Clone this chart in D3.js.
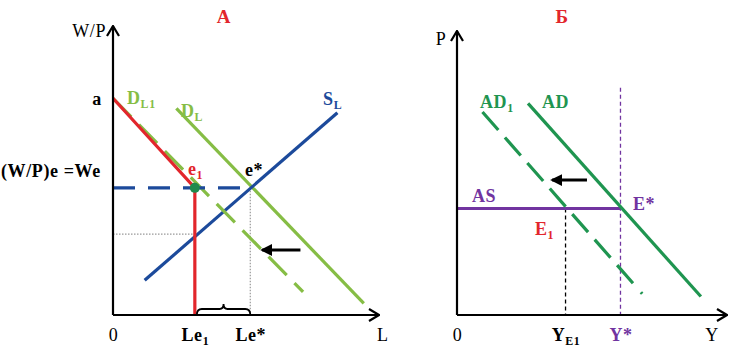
<!DOCTYPE html>
<html>
<head>
<meta charset="utf-8">
<script src="https://cdn.jsdelivr.net/npm/d3@7/dist/d3.min.js"></script>
<style>
  body { margin:0; background:#fff; }
  svg text { font-family:"Liberation Serif","Times New Roman",serif; letter-spacing:0.6px; }
</style>
</head>
<body>
<div id="chart"></div>
<script>
////////////////////////////////////////
// data (abstract units, 0..100 on each axis)
////////////////////////////////////////

// panel A : labour market
var a_DL1 = [[0,75],[72,8]];        // dashed, shifted demand
var a_DL  = [[24,71.5],[95,4]];     // demand
var a_SL  = [[12,12],[85,70]];      // supply
var a_red = [[0,75],[31,44],[31,0]];
var a_We  = 44;                     // real wage level
var a_Le1 = 31, a_LeStar = 52;
var a_lowW = 28;                    // dotted level under e1
var a_shift = [[71,22.5],[56.5,22.5]];
var a_xTicks = [0, a_Le1, a_LeStar, 102];
var a_xLabels = [[['0']], [['Le'],['1','sub']], [['Le*']], [['L']]];

// panel Б : goods market
var b_AD  = [[26.5,74.5],[91,6.5]];
var b_AD1 = [[9.5,71.5],[70.5,6]];
var b_AS  = 37.5;
var b_Y1 = 40.5, b_YStar = 61;
var b_YStarTop = 80;
var b_shift = [[48.5,47.5],[35.5,47.5]];
var b_xTicks = [0, b_Y1, b_YStar, 95];
var b_xLabels = [[['0']], [['Y'],['E1','sub']], [['Y*']], [['Y']]];

////////////////////////////////////////
// colours
////////////////////////////////////////
var red = '#e2262c', lgreen = '#86bd45', blue = '#1c4a9b',
    dgreen = '#1f9550', purple = '#7134a0';

var W = 731, H = 347;
var svg = d3.select('#chart').append('svg')
  .attr('width', W).attr('height', H);

var defs = svg.append('defs');
defs.append('marker').attr('id','axArrow')
  .attr('markerUnits','userSpaceOnUse')
  .attr('viewBox','0 0 12 14').attr('refX',11).attr('refY',7)
  .attr('markerWidth',12).attr('markerHeight',14).attr('orient','auto')
  .append('path').attr('d','M1,1 L11,7 L1,13')
  .attr('fill','none').attr('stroke','#000').attr('stroke-width',2.2);
defs.append('marker').attr('id','shArrow')
  .attr('markerUnits','userSpaceOnUse')
  .attr('viewBox','0 0 12 12').attr('refX',10).attr('refY',6)
  .attr('markerWidth',12).attr('markerHeight',12).attr('orient','auto')
  .append('path').attr('d','M0,0 L12,6 L0,12 Z').attr('fill','#000');

var line = function(x, y){ return d3.line().x(function(d){return x(d[0]);}).y(function(d){return y(d[1]);}); };

// text with optional subscript parts
function label(g, px, py, parts, color, opt){
  opt = opt || {};
  var t = g.append('text').attr('x',px).attr('y',py)
    .attr('fill',color||'#000')
    .attr('font-size',opt.size||18)
    .attr('font-weight',opt.weight||'bold')
    .attr('text-anchor',opt.anchor||'start');
  addParts(t, parts);
  return t;
}
function addParts(t, parts){
  parts.forEach(function(p, i){
    var s = t.append('tspan').text(p[0]);
    if(p[1]==='sub') s.attr('font-size','0.66em').attr('dy',3.5);
    else if(i>0 && parts[i-1][1]==='sub') s.attr('dy',-3.5);
  });
}

function axes(g, x, y, ticks, labels){
  var xa = d3.axisBottom(x).tickValues(ticks).tickSize(0).tickSizeOuter(0).tickFormat('');
  var gx = g.append('g').attr('transform','translate(0,'+y(0)+')').call(xa);
  gx.select('.domain').attr('stroke-width',2.2)
    .attr('d','M'+x(0)+',0H'+(x(100)+2)).attr('marker-end','url(#axArrow)');
  gx.selectAll('.tick text').remove();
  gx.selectAll('.tick').each(function(d,i){
    var t = d3.select(this).append('text').attr('y',26).attr('fill','#000')
      .attr('font-size',18).attr('text-anchor','middle')
      .attr('font-weight', (i===0||i===ticks.length-1)?'normal':'bold');
    addParts(t, labels[i]);
  });
  var ya = d3.axisLeft(y).tickValues([]).tickSizeOuter(0);
  var gy = g.append('g').attr('transform','translate('+x(0)+',0)').call(ya);
  gy.select('.domain').attr('stroke-width',2.2)
    .attr('d','M0,'+y(0)+'V'+y(100)).attr('marker-end','url(#axArrow)');
  gx.raise();
}

////////////////////////////////////////
// panel A
////////////////////////////////////////
var gA = svg.append('g');
var xA = d3.scaleLinear().domain([0,100]).range([113,377]);
var yA = d3.scaleLinear().domain([0,100]).range([315,26]);
var lA = line(xA,yA);

// dotted guides
gA.append('path').attr('d',lA([[a_LeStar,a_We],[a_LeStar,0]]))
  .attr('stroke','#999').attr('stroke-width',1.2).attr('stroke-dasharray','1.5,1.5').attr('fill','none');
gA.append('path').attr('d',lA([[0,a_lowW],[a_Le1,a_lowW]]))
  .attr('stroke','#999').attr('stroke-width',1.2).attr('stroke-dasharray','1.5,1.5').attr('fill','none');

gA.append('path').attr('d',lA(a_DL)).attr('stroke',lgreen).attr('stroke-width',3.2).attr('fill','none');
gA.append('path').attr('d',lA(a_SL)).attr('stroke',blue).attr('stroke-width',3.2).attr('fill','none');
gA.append('path').attr('d',lA(a_DL1)).attr('stroke',lgreen).attr('stroke-width',3.2)
  .attr('stroke-dasharray','26,11').attr('fill','none');
gA.append('path').attr('d',lA([[0,a_We],[a_LeStar,a_We]])).attr('stroke',blue).attr('stroke-width',3.2)
  .attr('stroke-dasharray','22,13').attr('fill','none');
gA.append('path').attr('d',lA(a_red)).attr('stroke',red).attr('stroke-width',3.2).attr('fill','none');
gA.append('circle').attr('cx',xA(a_Le1)).attr('cy',yA(a_We)).attr('r',5).attr('fill','#1f8a4c');
gA.append('path').attr('d',lA(a_shift)).attr('stroke','#000').attr('stroke-width',3)
  .attr('marker-end','url(#shArrow)').attr('fill','none');

// brace between Le1 and Le*
var bx1 = xA(a_Le1)+2, bx2 = xA(a_LeStar), bm = (bx1+bx2)/2, by = yA(0);
gA.append('path').attr('fill','none').attr('stroke','#000').attr('stroke-width',1.8)
  .attr('d','M'+bx1+','+by+' Q'+bx1+','+(by-6)+' '+(bx1+5)+','+(by-6)+
    ' L'+(bm-4)+','+(by-6)+' Q'+bm+','+(by-6)+' '+bm+','+(by-11)+
    ' Q'+bm+','+(by-6)+' '+(bm+4)+','+(by-6)+
    ' L'+(bx2-5)+','+(by-6)+' Q'+bx2+','+(by-6)+' '+bx2+','+by);

axes(gA, xA, yA, a_xTicks, a_xLabels);

label(gA, 224, 23, [['А']], red, {anchor:'middle', size:19});
label(gA, 106, 37, [['W/P']], '#000', {anchor:'end', weight:'normal'});
label(gA, 97, 105, [['a']], '#000', {anchor:'middle'});
label(gA, 1, 177, [['(W/P)e =We']], '#000');
label(gA, 127, 104, [['D'],['L1','sub']], lgreen);
label(gA, 181, 117, [['D'],['L','sub']], lgreen);
label(gA, 323, 105, [['S'],['L','sub']], blue);
label(gA, 188, 175, [['e'],['1','sub']], red);
label(gA, 245, 176, [['e*']], '#000');

////////////////////////////////////////
// panel Б
////////////////////////////////////////
var gB = svg.append('g');
var xB = d3.scaleLinear().domain([0,100]).range([457,725]);
var yB = d3.scaleLinear().domain([0,100]).range([315,31]);
var lB = line(xB,yB);

gB.append('path').attr('d',lB([[b_YStar,b_YStarTop],[b_YStar,0]]))
  .attr('stroke',purple).attr('stroke-width',1.3).attr('stroke-dasharray','4,3').attr('fill','none');
gB.append('path').attr('d',lB([[b_Y1,b_AS],[b_Y1,0]]))
  .attr('stroke','#000').attr('stroke-width',1.3).attr('stroke-dasharray','4,3').attr('fill','none');
gB.append('path').attr('d',lB([[0,b_AS],[b_YStar,b_AS]])).attr('stroke',purple).attr('stroke-width',3).attr('fill','none');
gB.append('path').attr('d',lB(b_AD)).attr('stroke',dgreen).attr('stroke-width',3.2).attr('fill','none');
gB.append('path').attr('d',lB(b_AD1)).attr('stroke',dgreen).attr('stroke-width',3.2)
  .attr('stroke-dasharray','24,10,24,10,24,10,24,10,24,10,24,10,24,12,2,100').attr('fill','none');
gB.append('path').attr('d',lB(b_shift)).attr('stroke','#000').attr('stroke-width',3)
  .attr('marker-end','url(#shArrow)').attr('fill','none');

axes(gB, xB, yB, b_xTicks, b_xLabels);
gB.selectAll('.tick text').filter(function(d){return d===b_YStar;}).attr('fill',purple);

label(gB, 562, 23, [['Б']], red, {anchor:'middle', size:19});
label(gB, 441, 45, [['P']], '#000', {anchor:'middle', weight:'normal'});
label(gB, 480, 108, [['AD'],['1','sub']], dgreen);
label(gB, 542, 108, [['AD']], dgreen);
label(gB, 472, 202, [['AS']], purple);
label(gB, 633, 210, [['E*']], purple);
label(gB, 535, 235, [['E'],['1','sub']], red);
</script>
</body>
</html>
